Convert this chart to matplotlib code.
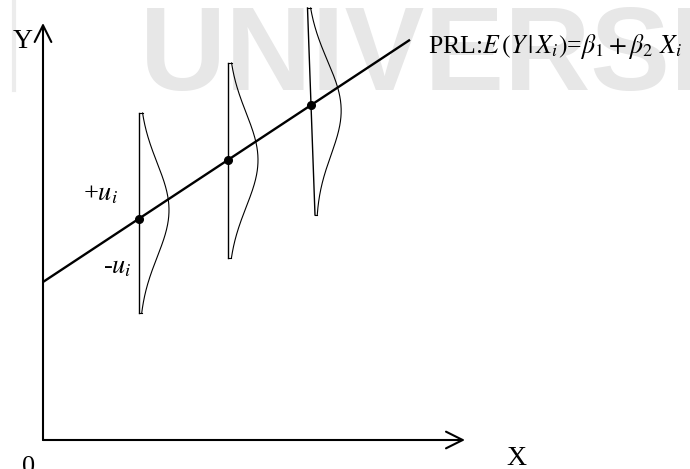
import numpy as np
import matplotlib
matplotlib.use("Agg")
import matplotlib.pyplot as plt
from matplotlib.patches import FancyArrowPatch

plt.rcParams['font.family'] = ['Liberation Serif', 'DejaVu Serif']
plt.rcParams['mathtext.fontset'] = 'stix'

# ---- diagram data (pixel-like units, origin at the axes corner, y up) ----
beta1 = 158.0          # intercept of the population regression line
beta2 = 0.66           # slope
line_x_end = 367.0
x_i = [96.0, 185.0, 268.0]            # X values with conditional distributions
dist_top = [327.0, 377.0, 432.0]      # top of each distribution baseline
dist_bottom = [127.0, 182.0, 225.0]   # bottom of each distribution baseline
dist_peak = [230.0, 280.0, 332.0]     # centre of each density
dist_top_x = [96.0, 185.0, 264.5]
dist_bottom_x = [96.0, 185.0, 272.0]
dist_amp = 30.0
dist_sigma = 47.0
x_axis_end = 422.0
y_axis_end = 417.0
watermark = "UNIVERSI"

fig = plt.figure(figsize=(6.9, 4.69), dpi=100)
ax = fig.add_axes([0, 0, 1, 1])
ax.set_xlim(-43, 647)
ax.set_ylim(-29, 440)
ax.axis('off')

# watermark
ax.text(97, 350, watermark, fontsize=86, family='Liberation Sans',
        fontweight='bold', color='#e7e7e7', ha='left', va='baseline', zorder=0)
ax.plot([-29, -29], [350, 440], color='#ececec', lw=3, zorder=0)

# axes with open arrow heads
for (x0, y0, x1, y1) in [(0, 0, x_axis_end, 0), (0, 0, 0, y_axis_end)]:
    ax.add_patch(FancyArrowPatch((x0, y0), (x1, y1),
                                 arrowstyle='->,head_length=12,head_width=6',
                                 mutation_scale=1, lw=1.5, color='black',
                                 shrinkA=0, shrinkB=0))

# regression line
lx = np.array([0.0, line_x_end])
ax.plot(lx, beta1 + beta2 * lx, color='black', lw=1.7, solid_capstyle='butt')

# conditional distributions
for xt, xb, yt, yb, mu in zip(dist_top_x, dist_bottom_x, dist_top, dist_bottom, dist_peak):
    ax.plot([xt, xb], [yt, yb], color='black', lw=1.0)
    yy = np.linspace(yt, yb, 200)
    base = xt + (yt - yy) / (yt - yb) * (xb - xt)
    dens = np.exp(-(yy - mu) ** 2 / (2 * dist_sigma ** 2))
    ax.plot(base + dist_amp * dens, yy, color='black', lw=0.8)
    ax.plot([xt, base[0] + dist_amp * dens[0]], [yt, yy[0]], color='black', lw=0.8)
    ax.plot([xb, base[-1] + dist_amp * dens[-1]], [yb, yy[-1]], color='black', lw=0.8)

xi = np.array(x_i)
ax.plot(xi, beta1 + beta2 * xi, 'o', color='black', ms=5.5)

# labels
ax.text(-30, 392, 'Y', fontsize=20, ha='left', va='baseline')
ax.text(463, -25, 'X', fontsize=20, ha='left', va='baseline')
ax.text(-21, -33, '0', fontsize=19, ha='left', va='baseline')
ax.text(385, 387, r'PRL:$E\,(Y\,|\,X_i)$=$\beta_1+\beta_2\ X_i$', fontsize=18.6,
        ha='left', va='baseline')
ax.text(40, 240, r'+$u_i$', fontsize=19, ha='left', va='baseline')
ax.text(60, 167, r'-$u_i$', fontsize=19, ha='left', va='baseline')

fig.savefig('out.png', dpi=100)
